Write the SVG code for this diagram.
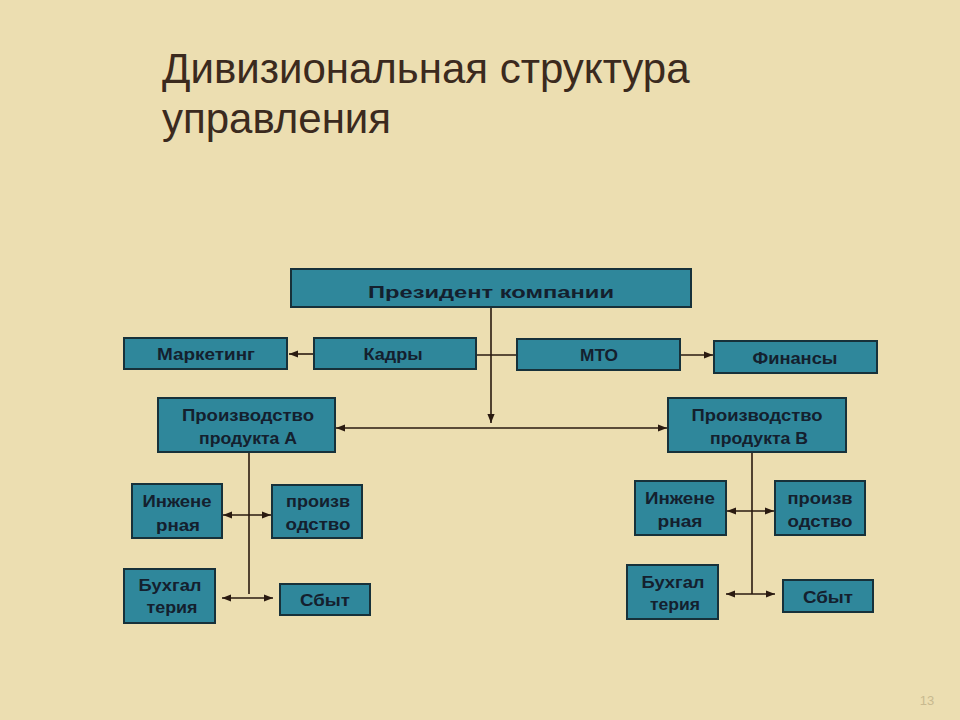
<svg xmlns="http://www.w3.org/2000/svg" width="960" height="720" viewBox="0 0 960 720">
<defs>
<marker id="ah" viewBox="0 0 10 10" refX="10" refY="5" markerWidth="9" markerHeight="9" orient="auto-start-reverse" markerUnits="userSpaceOnUse">
<path d="M0,1 L10,5 L0,9 z" fill="#2a1a10"/>
</marker>
<style>
.box{fill:#2f879b;stroke:#17313a;stroke-width:2}
.t{font-family:"Liberation Sans",Arial,sans-serif;font-weight:bold;font-size:16px;fill:#14202e;text-anchor:middle}
.c{stroke:#2a1a10;stroke-width:1.6;fill:none}
</style>
</defs>
<rect width="960" height="720" fill="#ecdeb1"/>
<g id="title" font-family="'Liberation Sans',Arial,sans-serif" font-size="42" fill="#3b2a1e">
<text x="162" y="83">Дивизиональная структура</text>
<text x="162" y="133">управления</text>
</g>
<g id="connectors">
<line class="c" x1="491" y1="307" x2="491" y2="423" marker-end="url(#ah)"/>
<line class="c" x1="476" y1="355" x2="517" y2="355"/>
<line class="c" x1="313" y1="354" x2="289" y2="354" marker-end="url(#ah)"/>
<line class="c" x1="680" y1="355" x2="713" y2="355" marker-end="url(#ah)"/>
<line class="c" x1="336" y1="428" x2="667" y2="428" marker-start="url(#ah)" marker-end="url(#ah)"/>
<line class="c" x1="249" y1="452" x2="249" y2="594"/>
<line class="c" x1="223" y1="515" x2="271" y2="515" marker-start="url(#ah)" marker-end="url(#ah)"/>
<line class="c" x1="222" y1="598" x2="273" y2="598" marker-start="url(#ah)" marker-end="url(#ah)"/>
<line class="c" x1="752" y1="452" x2="752" y2="594"/>
<line class="c" x1="727" y1="511" x2="774" y2="511" marker-start="url(#ah)" marker-end="url(#ah)"/>
<line class="c" x1="726" y1="594" x2="775" y2="594" marker-start="url(#ah)" marker-end="url(#ah)"/>
</g>
<g id="president"><rect class="box" x="291" y="269" width="400" height="38"/><text class="t" x="491" y="298" font-size="21" textLength="246" lengthAdjust="spacingAndGlyphs">Президент компании</text></g>
<g id="marketing"><rect class="box" x="124" y="338" width="163" height="31"/><text class="t" x="206" y="360" textLength="98" lengthAdjust="spacingAndGlyphs">Маркетинг</text></g>
<g id="kadry"><rect class="box" x="314" y="338" width="162" height="31"/><text class="t" x="393" y="360" textLength="59" lengthAdjust="spacingAndGlyphs">Кадры</text></g>
<g id="mto"><rect class="box" x="517" y="339" width="163" height="31"/><text class="t" x="599" y="361" textLength="38" lengthAdjust="spacingAndGlyphs">МТО</text></g>
<g id="finance"><rect class="box" x="714" y="341" width="163" height="32"/><text class="t" x="795" y="364" textLength="85" lengthAdjust="spacingAndGlyphs">Финансы</text></g>
<g id="prodA"><rect class="box" x="158" y="398" width="177" height="54"/><text class="t" x="248" y="421" textLength="132" lengthAdjust="spacingAndGlyphs">Производство</text><text class="t" x="248" y="444" textLength="98" lengthAdjust="spacingAndGlyphs">продукта А</text></g>
<g id="prodB"><rect class="box" x="668" y="398" width="178" height="54"/><text class="t" x="757" y="421" textLength="131" lengthAdjust="spacingAndGlyphs">Производство</text><text class="t" x="759" y="444" textLength="98" lengthAdjust="spacingAndGlyphs">продукта В</text></g>
<g id="engA"><rect class="box" x="132" y="484" width="90" height="54"/><text class="t" x="177" y="507" textLength="69" lengthAdjust="spacingAndGlyphs">Инжене</text><text class="t" x="178" y="531" textLength="44" lengthAdjust="spacingAndGlyphs">рная</text></g>
<g id="prodDeptA"><rect class="box" x="272" y="485" width="90" height="53"/><text class="t" x="318" y="507" textLength="64" lengthAdjust="spacingAndGlyphs">произв</text><text class="t" x="318" y="530" textLength="65" lengthAdjust="spacingAndGlyphs">одство</text></g>
<g id="accA"><rect class="box" x="124" y="569" width="91" height="54"/><text class="t" x="170" y="591" textLength="63" lengthAdjust="spacingAndGlyphs">Бухгал</text><text class="t" x="172" y="613" textLength="51" lengthAdjust="spacingAndGlyphs">терия</text></g>
<g id="salesA"><rect class="box" x="280" y="584" width="90" height="31"/><text class="t" x="325" y="606" textLength="50" lengthAdjust="spacingAndGlyphs">Сбыт</text></g>
<g id="engB"><rect class="box" x="635" y="481" width="91" height="54"/><text class="t" x="680" y="504" textLength="70" lengthAdjust="spacingAndGlyphs">Инжене</text><text class="t" x="680" y="527" textLength="45" lengthAdjust="spacingAndGlyphs">рная</text></g>
<g id="prodDeptB"><rect class="box" x="775" y="481" width="90" height="54"/><text class="t" x="820" y="504" textLength="65" lengthAdjust="spacingAndGlyphs">произв</text><text class="t" x="820" y="527" textLength="65" lengthAdjust="spacingAndGlyphs">одство</text></g>
<g id="accB"><rect class="box" x="627" y="565" width="91" height="54"/><text class="t" x="673" y="588" textLength="63" lengthAdjust="spacingAndGlyphs">Бухгал</text><text class="t" x="675" y="610" textLength="50" lengthAdjust="spacingAndGlyphs">терия</text></g>
<g id="salesB"><rect class="box" x="783" y="580" width="90" height="32"/><text class="t" x="828" y="603" textLength="50" lengthAdjust="spacingAndGlyphs">Сбыт</text></g>
<text x="927" y="705" font-family="'Liberation Sans',Arial,sans-serif" font-size="13" fill="#c8b98f" text-anchor="middle">13</text>
</svg>
